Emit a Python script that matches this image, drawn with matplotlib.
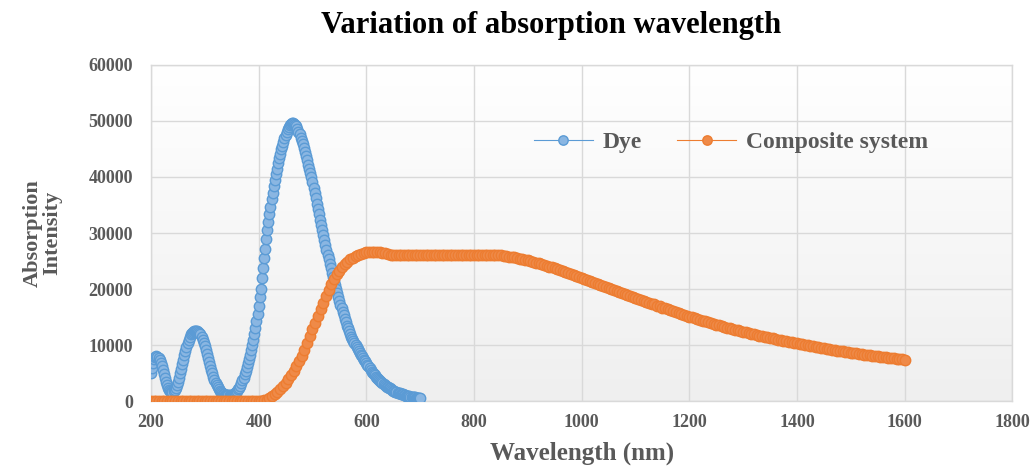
import numpy as np
import matplotlib
matplotlib.use("Agg")
import matplotlib.pyplot as plt
from matplotlib.colors import LinearSegmentedColormap

# Dye spectrum, read every 2 nm from 200 to 700 nm
dye_nm = np.arange(200, 701, 2)
dye_int = [
    5000, 6000, 6900, 7500, 7900, 8000, 7900, 7700, 7300, 6800,          # 200
    6200, 5500, 4800, 4100, 3500, 2900, 2400, 2000, 1800, 1700,          # 220
    1700, 1800, 2000, 2400, 2900, 3500, 4200, 5000, 5800, 6600,          # 240
    7400, 8200, 9000, 9700, 10400, 11000, 11500, 11900, 12200, 12400,    # 260
    12550, 12600, 12600, 12550, 12400, 12200, 11900, 11500, 11000, 10400,  # 280
    9800, 9100, 8400, 7700, 7000, 6300, 5600, 5000, 4400, 3800,          # 300
    3300, 2900, 2500, 2200, 1900, 1700, 1500, 1350, 1250, 1150,          # 320
    1100, 1050, 1050, 1050, 1050, 1100, 1150, 1250, 1400, 1600,          # 340
    1800, 2100, 2400, 2800, 3200, 3700, 4200, 4800, 5400, 6100,          # 360
    6800, 7500, 8300, 9100, 10000, 11000, 12000, 13100, 14300, 15600,    # 380
    17000, 18500, 20000, 21900, 23700, 25500, 27200, 28900, 30500, 32000,  # 400
    33400, 34700, 36000, 37200, 38400, 39500, 40500, 41500, 42400, 43300,  # 420
    44100, 44900, 45600, 46300, 46900, 47500, 48000, 48500, 48900, 49200,  # 440
    49450, 49600, 49600, 49500, 49300, 49000, 48600, 48100, 47600, 47000,  # 460
    46400, 45800, 45100, 44400, 43700, 43000, 42200, 41500, 40700, 40000,  # 480
    39100, 38100, 37100, 36200, 35200, 34300, 33300, 32400, 31400, 30500,  # 500
    29600, 28700, 27800, 27000, 26100, 25300, 24500, 23700, 22900, 22100,  # 520
    21400, 20700, 20000, 19300, 18600, 17900, 17200, 16600, 15900, 15300,  # 540
    14700, 14100, 13500, 13000, 12500, 12000, 11500, 11100, 10700, 10300,  # 560
    10000, 9600, 9300, 8900, 8600, 8300, 8000, 7700, 7400, 7100,         # 580
    6800, 6500, 6200, 5900, 5600, 5300, 5000, 4800, 4600, 4400,          # 600
    4200, 4000, 3800, 3600, 3400, 3200, 3000, 2900, 2800, 2600,          # 620
    2500, 2400, 2300, 2100, 2000, 1900, 1800, 1700, 1650, 1550,          # 640
    1500, 1400, 1300, 1250, 1200, 1100, 1050, 1000, 950, 900,            # 660
    850, 800, 780, 750, 720, 690, 660, 640, 620, 600,                    # 680
    580,                                                                 # 700
]

# Composite system, read every 5 nm from 200 to 1600 nm
comp_nm = np.arange(200, 1601, 5)
comp_int = [
    0, 0, 0, 0, 0, 0, 0, 0, 0, 0,                                        # 200
    0, 0, 0, 0, 0, 0, 0, 0, 0, 0,                                        # 250
    0, 0, 0, 0, 0, 0, 0, 0, 0, 0,                                        # 300
    0, 0, 0, 0, 0, 0, 0, 0, 0, 0,                                        # 350
    0, 50, 150, 300, 550, 850, 1200, 1650, 2150, 2700,                   # 400
    3300, 3950, 4650, 5400, 6200, 7100, 8100, 9200, 10400, 11600,        # 450
    12800, 14000, 15200, 16400, 17600, 18800, 19900, 20900, 21800, 22600,  # 500
    23300, 23900, 24400, 24900, 25300, 25600, 25900, 26100, 26300, 26450,  # 550
    26550, 26600, 26650, 26650, 26600, 26550, 26450, 26350, 26250, 26150,  # 600
    26100, 26050, 26000, 26000, 26000, 26000, 26000, 26000, 26000, 26000,  # 650
    26000, 26000, 26000, 26000, 26000, 26000, 26000, 26000, 26000, 26000,  # 700
    26000, 26000, 26000, 26000, 26000, 26000, 26000, 26000, 26000, 26000,  # 750
    26000, 26000, 26000, 26000, 26000, 26000, 26000, 26000, 26000, 26000,  # 800
    26000, 25950, 25900, 25800, 25750, 25650, 25550, 25450, 25350, 25250,  # 850
    25150, 25000, 24850, 24700, 24600, 24450, 24300, 24150, 24000, 23850,  # 900
    23700, 23550, 23350, 23150, 23000, 22800, 22600, 22450, 22250, 22100,  # 950
    21900, 21750, 21600, 21450, 21250, 21100, 20900, 20750, 20550, 20400,  # 1000
    20200, 20050, 19850, 19700, 19500, 19350, 19150, 19000, 18800, 18650,  # 1050
    18450, 18300, 18100, 17950, 17750, 17600, 17400, 17250, 17050, 16900,  # 1100
    16700, 16550, 16400, 16200, 16050, 15900, 15700, 15550, 15400, 15250,  # 1150
    15100, 14950, 14800, 14650, 14500, 14360, 14220, 14080, 13940, 13800,  # 1200
    13660, 13530, 13400, 13270, 13140, 13010, 12880, 12760, 12640, 12520,  # 1250
    12400, 12280, 12160, 12050, 11940, 11830, 11720, 11610, 11500, 11400,  # 1300
    11300, 11200, 11100, 11000, 10900, 10800, 10700, 10600, 10500, 10400,  # 1350
    10300, 10210, 10120, 10030, 9940, 9850, 9760, 9670, 9590, 9510,     # 1400
    9430, 9350, 9270, 9190, 9110, 9030, 8950, 8880, 8810, 8740,          # 1450
    8670, 8600, 8530, 8460, 8390, 8320, 8250, 8190, 8130, 8070,          # 1500
    8010, 7950, 7890, 7830, 7770, 7710, 7650, 7590, 7530, 7470,          # 1550
    7410,                                                                # 1600
]

x_ticks = [200, 400, 600, 800, 1000, 1200, 1400, 1600, 1800]
y_ticks = [0, 10000, 20000, 30000, 40000, 50000, 60000]

serif = ["Liberation Serif", "DejaVu Serif"]
grey = "#595959"

fig = plt.figure(figsize=(10.34, 4.66), dpi=100)
ax = fig.add_axes([0.146, 0.139, 0.833, 0.722])

# soft white-to-grey fill of the plot area
grad = LinearSegmentedColormap.from_list("g", ["#efefef", "#ffffff"])
ax.imshow(np.linspace(0, 1, 256)[:, None], extent=[0, 1, 0, 1], transform=ax.transAxes,
          cmap=grad, aspect="auto", origin="lower", zorder=0)

ax.plot(dye_nm, dye_int, "-o", color="#5b9bd5", lw=0.8, ms=7.5,
        mfc="#8ab6e2", mec="#5b9bd5", mew=1.0, label="Dye", zorder=3)
ax.plot(comp_nm, comp_int, "-o", color="#ed7d31", lw=0.8, ms=7.5,
        mfc="#ef8a48", mec="#ed7d31", mew=1.0, label="Composite system", zorder=3)

ax.set_xlim(200, 1800)
ax.set_ylim(0, 60000)
ax.set_xticks(x_ticks)
ax.set_yticks(y_ticks)
ax.grid(True, color="#d9d9d9", lw=1.0, zorder=1)
ax.set_axisbelow(True)
for s in ax.spines.values():
    s.set_color("#d9d9d9")
    s.set_linewidth(1.0)
ax.tick_params(length=0, colors=grey)
ax.tick_params(axis="y", pad=13)
ax.tick_params(axis="x", pad=9)
for lab in ax.get_xticklabels() + ax.get_yticklabels():
    lab.set_fontfamily(serif)
    lab.set_fontweight("bold")
    lab.set_fontsize(13)
    lab.set_color(grey)

ax.set_xlabel("Wavelength (nm)", fontsize=18, fontweight="bold", family=serif,
              color=grey, labelpad=8)
ax.set_ylabel("Absorption\nIntensity", fontsize=16, fontweight="bold", family=serif,
              color=grey, labelpad=19, linespacing=0.95)

fig.text(0.533, 0.945, "Variation of absorption wavelength", ha="center", va="center",
         fontsize=22, fontweight="bold", family=serif, color="black")

leg = ax.legend(loc="center left", bbox_to_anchor=(0.42, 0.77), ncol=2, frameon=False,
                handlelength=2.5, columnspacing=1.5, handletextpad=0.4,
                prop={"family": serif, "weight": "bold", "size": 17}, markerscale=0.9)
for t in leg.get_texts():
    t.set_color(grey)

fig.savefig("out.png", dpi=100, facecolor="white")
